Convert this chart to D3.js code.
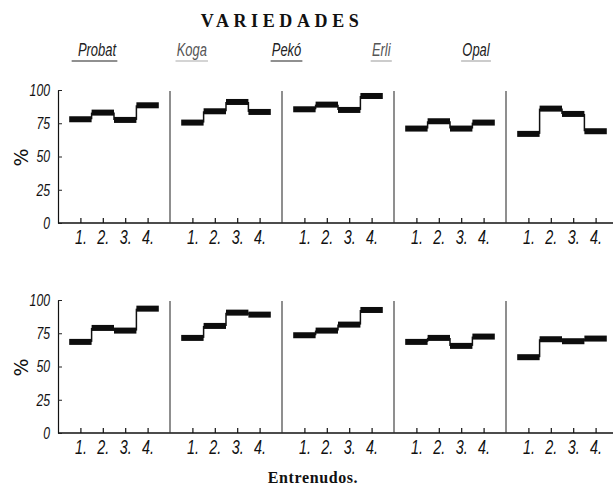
<!DOCTYPE html>
<html><head><meta charset="utf-8">
<script src="https://cdn.jsdelivr.net/npm/d3@7"></script>
<style>
body{margin:0;background:#fff;}
svg{display:block;}
.num{font-family:"Liberation Sans","DejaVu Sans",sans-serif;font-style:italic;fill:#111;}
</style></head>
<body>
<svg id="chart" width="613" height="487"></svg>
<script>
// ---- data ----
const title = "VARIEDADES";
const xTitle = "Entrenudos.";
const yTitle = "%";
const varieties = ["Probat", "Koga", "Pekó", "Erli", "Opal"];
const internodes = [1, 2, 3, 4];
const xTickLabels = ["1.", "2.", "3.", "4."];
const yTicks = [0, 25, 50, 75, 100];
// top row values per variety (internodes 1-4)
const topRow = [
  [78, 83, 77.5, 88.5],
  [75.5, 84, 91, 83.5],
  [85.5, 89, 85, 95.5],
  [71, 76.5, 71, 75.5],
  [67, 86, 82, 69]
];
// bottom row values per variety (internodes 1-4)
const bottomRow = [
  [68.5, 79, 77, 93.5],
  [71.5, 80.5, 90.5, 89],
  [73.5, 77, 81.5, 92.5],
  [68.5, 71.5, 65.5, 72.5],
  [57, 70.5, 69, 71]
];

// ---- layout ----
const svg = d3.select("#chart");
const panelLeft = 58, panelW = 112;
const rows = [
  {values: topRow, y0: 223, y100: 90},
  {values: bottomRow, y0: 433, y100: 300}
];
const barH = 6;
const squeeze = 0.72;

// title
svg.append("text").attr("x", 282).attr("y", 27).attr("text-anchor", "middle")
  .style("font-family", "'Liberation Serif','DejaVu Serif',serif").style("font-weight", "bold")
  .style("font-size", "18px").style("letter-spacing", "4.6px").style("fill", "#111").text(title);

// variety labels (underlined)
const labelX = d3.scaleLinear().domain([0, 4]).range([97, 476]);
varieties.forEach((v, i) => {
  const cx = labelX(i);
  const t = svg.append("text").attr("class", "num")
    .attr("transform", `translate(${cx},56) scale(${squeeze},1)`)
    .attr("text-anchor", "middle").style("font-size", "18px").style("fill", i === 0 || i === 2 || i === 4 ? "#222" : "#555")
    .text(v);
  const w = t.node().getBBox().width * squeeze;
  svg.append("line").attr("x1", cx - w / 2 - (i === 0 ? 6 : 1)).attr("x2", cx + w / 2 + 1)
    .attr("y1", 61).attr("y2", 61).attr("stroke", i === 0 || i === 2 ? "#222" : "#aaa")
    .attr("stroke-width", 1.2);
});

rows.forEach((row, r) => {
  const y = d3.scaleLinear().domain([0, 100]).range([row.y0, row.y100]);
  const g = svg.append("g");

  // baseline across all panels
  g.append("line").attr("x1", panelLeft).attr("x2", 613).attr("y1", y(0)).attr("y2", y(0))
    .attr("stroke", "#111").attr("stroke-width", 1.4);

  // y axis
  const ya = g.append("g").attr("transform", `translate(${panelLeft},0)`)
    .call(d3.axisLeft(y).tickValues(yTicks).tickSizeInner(-4).tickSizeOuter(0).tickPadding(8));
  ya.select(".domain").attr("stroke", "#111").attr("stroke-width", 1.2);
  ya.selectAll(".tick line").attr("stroke", "#222");
  ya.selectAll(".tick text").attr("class", "num").style("font-size", "17px").style("font-family", null)
    .attr("x", -8 / squeeze).attr("transform", `scale(${squeeze},1)`);

  // y title
  g.append("text").attr("transform", `translate(28,${y(50) + 1}) rotate(-90)`)
    .attr("text-anchor", "middle").style("font-family", "'DejaVu Sans',sans-serif")
    .style("font-size", "19px").style("fill", "#111").text(yTitle);

  row.values.forEach((vals, p) => {
    const x0 = panelLeft + p * panelW;
    const x = d3.scaleLinear().domain([0, 5]).range([x0, x0 + panelW]);
    // divider
    if (p > 0) {
      g.append("line").attr("x1", x0).attr("x2", x0).attr("y1", y(100) + 1).attr("y2", y(0))
        .attr("stroke", "#333").attr("stroke-width", 1.1);
    }
    // x axis ticks
    const xa = g.append("g").attr("transform", `translate(0,${y(0)})`)
      .call(d3.axisBottom(x).tickValues(internodes).tickFormat((d, i) => xTickLabels[i])
        .tickSizeInner(-5).tickSizeOuter(0).tickPadding(7));
    xa.select(".domain").remove();
    xa.selectAll(".tick line").attr("stroke", "#111").attr("stroke-width", 1.2);
    xa.selectAll(".tick text").attr("class", "num").style("font-size", "20px").style("font-family", null)
      .attr("transform", `scale(${squeeze},1)`);

    // step bars
    g.selectAll(null).data(vals).enter().append("rect")
      .attr("x", (d, i) => x(internodes[i] - 0.5))
      .attr("width", (d, i) => x(internodes[i] + 0.5) - x(internodes[i] - 0.5))
      .attr("y", d => y(d) - barH / 2).attr("height", barH)
      .attr("fill", "#0d0d0d");
    // vertical connectors
    g.selectAll(null).data(vals.slice(1)).enter().append("line")
      .attr("x1", (d, i) => x(internodes[i] + 0.5)).attr("x2", (d, i) => x(internodes[i] + 0.5))
      .attr("y1", (d, i) => y(vals[i])).attr("y2", d => y(d))
      .attr("stroke", "#111").attr("stroke-width", 1.5);
  });
});

// x title
svg.append("text").attr("x", 313).attr("y", 483).attr("text-anchor", "middle")
  .style("font-family", "'Liberation Serif','DejaVu Serif',serif").style("font-weight", "bold")
  .style("font-size", "16px").style("letter-spacing", "0.6px").style("fill", "#111").text(xTitle);
</script>
</body></html>
